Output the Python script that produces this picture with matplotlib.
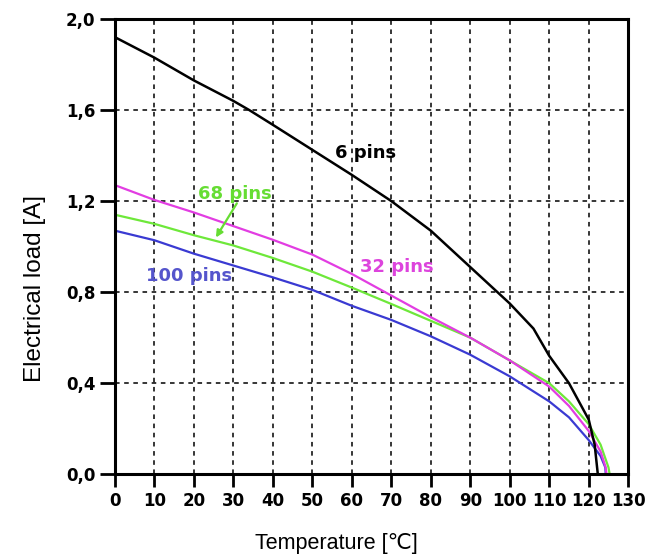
import numpy as np
import matplotlib.pyplot as plt

# values
temp_6 = [0, 10, 20, 30, 34, 40, 50, 60, 70, 80, 85, 90, 100, 106, 110, 115, 120, 121.5, 122.3]
load_6 = [1.92, 1.83, 1.73, 1.64, 1.60, 1.535, 1.425, 1.315, 1.20, 1.07, 0.99, 0.91, 0.75, 0.64, 0.52, 0.40, 0.24, 0.13, 0.0]

temp_32 = [0, 10, 20, 30, 40, 50, 60, 70, 80, 90, 100, 110, 115, 120, 123, 124.3, 124.5]
load_32 = [1.27, 1.205, 1.15, 1.09, 1.03, 0.965, 0.88, 0.785, 0.69, 0.60, 0.50, 0.385, 0.30, 0.19, 0.10, 0.03, 0.0]

temp_68 = [0, 10, 20, 30, 40, 50, 60, 70, 80, 90, 100, 110, 115, 120, 123, 125, 125.3]
load_68 = [1.14, 1.10, 1.05, 1.005, 0.95, 0.89, 0.82, 0.748, 0.674, 0.60, 0.50, 0.40, 0.32, 0.22, 0.13, 0.03, 0.0]

temp_100 = [0, 10, 20, 30, 40, 50, 60, 70, 80, 90, 100, 110, 115, 120, 123, 124.2, 124.3]
load_100 = [1.07, 1.028, 0.969, 0.917, 0.865, 0.81, 0.74, 0.678, 0.606, 0.525, 0.43, 0.32, 0.25, 0.15, 0.08, 0.03, 0.0]

x_ticks = np.arange(0, 131, 10)
y_ticks = [0.0, 0.4, 0.8, 1.2, 1.6, 2.0]
y_tick_labels = ['0,0', '0,4', '0,8', '1,2', '1,6', '2,0']

fig = plt.figure(figsize=(6.45, 5.56), dpi=100)
ax = fig.add_axes([0.178, 0.147, 0.796, 0.819])

ax.plot(temp_100, load_100, color='#3a3ad2', lw=1.6)
ax.plot(temp_68, load_68, color='#6ee83a', lw=1.6)
ax.plot(temp_32, load_32, color='#e23de2', lw=1.6)
ax.plot(temp_6, load_6, color='black', lw=1.8)

ax.set_xlim(0, 130)
ax.set_ylim(0, 2.0)
ax.set_xticks(x_ticks)
ax.set_xticklabels([str(t) for t in x_ticks])
ax.set_yticks(y_ticks)
ax.set_yticklabels(y_tick_labels)

ax.grid(True, color='black', lw=1.1, linestyle=(0, (3, 3)))
ax.set_axisbelow(True)

for s in ax.spines.values():
    s.set_linewidth(2.2)

ax.tick_params(axis='x', length=9, width=2, direction='out', pad=4)
ax.tick_params(axis='y', length=11, width=2, direction='out', pad=3)
for lab in ax.get_xticklabels() + ax.get_yticklabels():
    lab.set_fontfamily(['Liberation Sans Narrow', 'DejaVu Sans'])
    lab.set_fontweight('bold')
    lab.set_fontsize(12)

# curve labels
lab_font = dict(fontsize=13, fontweight='bold', family='DejaVu Sans')
ax.text(63.4, 1.41, '6 pins', color='black', ha='center', va='center', **lab_font)
ax.text(71.5, 0.91, '32 pins', color='#dd44dd', ha='center', va='center', **lab_font)
ax.text(30.4, 1.23, '68 pins', color='#66dd33', ha='center', va='center', **lab_font)
ax.text(18.8, 0.87, '100 pins', color='#5555cc', ha='center', va='center', **lab_font)
ax.annotate('', xy=(25.6, 1.04), xytext=(30.9, 1.19),
            arrowprops=dict(arrowstyle='-|>', color='#66dd33', lw=1.6,
                            mutation_scale=10, shrinkA=0, shrinkB=0))

ax.set_xlabel('Temperature [℃]', fontsize=15.5, family=['Liberation Sans', 'DejaVu Sans'])
ax.set_ylabel('Electrical load [A]', fontsize=17.5, family=['Liberation Sans', 'DejaVu Sans'])
ax.xaxis.set_label_coords(0.431, -0.152)
ax.xaxis.label.set_va('center')
ax.yaxis.set_label_coords(-0.155, 0.409)
ax.yaxis.label.set_va('center')

fig.savefig('out.png', dpi=100)
